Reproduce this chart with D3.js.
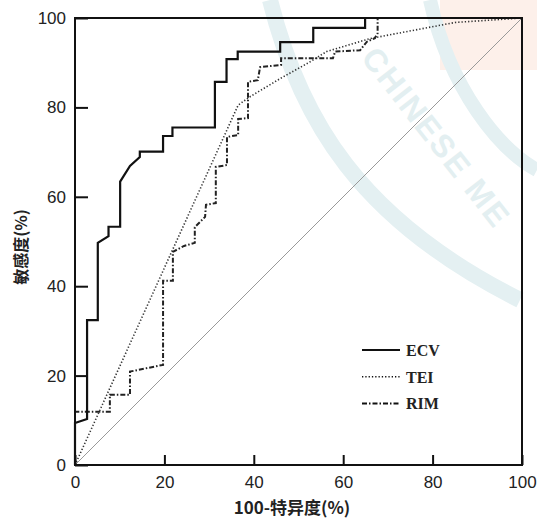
<!DOCTYPE html>
<html>
<head>
<meta charset="utf-8">
<script src="https://cdn.jsdelivr.net/npm/d3@7"></script>
<style>
  html, body { margin: 0; padding: 0; background: #fff; }
  svg { display: block; }
</style>
</head>
<body>
<div id="chart"></div>
<script>
// ROC curves, values: [100-specificity, sensitivity]
const ecv = [[0,0],[0,9.4],[2.7,10.3],[2.7,32.4],[5.1,32.4],[5.1,49.7],[7.5,51.2],[7.5,53.3],
  [10.1,53.3],[10.1,63.4],[12.3,66.9],[14.5,68.9],[14.5,70.1],[19.7,70.1],[19.7,73.6],
  [21.8,73.6],[21.8,75.5],[31.3,75.5],[31.3,85.7],[33.9,85.7],[33.9,90.8],[36.4,90.8],
  [36.4,92.5],[45.9,92.5],[45.9,94.6],[53.3,94.6],[53.3,97.8],[64.9,97.8],[64.9,100],[100,100]];
const tei = [[0,0],[36.5,80.5],[39,82.3],[46,86.5],[52.6,90.2],[56.3,92.5],[66,95.4],[85,99],[100,100]];
const rim = [[0,0],[0,11.9],[7.8,11.9],[7.8,15.7],[12.3,15.7],[12.3,20.9],[19.7,22.4],[19.7,41.2],
  [21.9,41.2],[21.9,47.7],[24.4,49.0],[26.8,49.7],[26.8,53.2],[29.1,55.5],[29.3,58.2],[31.5,58.6],
  [31.5,66.7],[34,67.1],[34,73.4],[36.5,73.8],[36.5,77.4],[38.7,77.6],[38.7,85.7],[40.9,86.1],
  [41.4,89.0],[46.1,89.5],[46.1,91.0],[57.7,91.0],[58.2,92.5],[63.8,92.8],[65.3,94.7],
  [67.1,95.5],[67.7,96.6],[67.7,100],[100,100]];
const diagonal = [[0,0],[100,100]];

const ticks = [0, 20, 40, 60, 80, 100];
const seriesNames = ['ECV', 'TEI', 'RIM'];

const width = 537, height = 518;

const svg = d3.select('#chart').append('svg')
  .attr('width', width)
  .attr('height', height);

// faint watermark behind the plot
const wm = svg.append('g').attr('fill', 'none');
wm.append('rect').attr('x', 440).attr('y', 0).attr('width', 97).attr('height', 70)
  .attr('fill', '#fdf0ea').attr('stroke', 'none');
wm.append('path').attr('d', 'M270,0 C300,120 360,220 520,300')
  .attr('stroke', '#e4f0f2').attr('stroke-width', 16);
wm.append('path').attr('d', 'M430,0 C450,90 500,150 537,170')
  .attr('stroke', '#e4f0f2').attr('stroke-width', 14);
wm.append('text').attr('transform', 'translate(360,58) rotate(52)')
  .attr('font-family', 'Liberation Sans, sans-serif').attr('font-size', 32)
  .attr('font-weight', 'bold')
  .attr('fill', '#e3eff1').attr('letter-spacing', 2).text('CHINESE ME');

const x = d3.scaleLinear().domain([0, 100]).range([75, 522]);
const y = d3.scaleLinear().domain([0, 100]).range([465, 18]);

const line = d3.line().x(d => x(d[0])).y(d => y(d[1]));

// reference diagonal
svg.append('path').datum(diagonal).attr('d', line)
  .attr('fill', 'none').attr('stroke', '#999').attr('stroke-width', 1);

// curves
svg.append('path').datum(tei).attr('d', line)
  .attr('fill', 'none').attr('stroke', '#333').attr('stroke-width', 1.6)
  .attr('stroke-dasharray', '1.3,2');
svg.append('path').datum(rim).attr('d', line)
  .attr('fill', 'none').attr('stroke', '#222').attr('stroke-width', 2)
  .attr('stroke-dasharray', '5,2,1.5,2');
svg.append('path').datum(ecv).attr('d', line)
  .attr('fill', 'none').attr('stroke', '#111').attr('stroke-width', 2.2)
  .attr('stroke-linejoin', 'miter');

// frame
svg.append('rect')
  .attr('x', x(0)).attr('y', y(100))
  .attr('width', x(100) - x(0)).attr('height', y(0) - y(100))
  .attr('fill', 'none').attr('stroke', '#111').attr('stroke-width', 2);

// axes with inward ticks
const xAxis = svg.append('g')
  .attr('transform', `translate(0,${y(0)})`)
  .call(d3.axisBottom(x).tickValues(ticks).tickSize(-10).tickPadding(11));
const yAxis = svg.append('g')
  .attr('transform', `translate(${x(0)},0)`)
  .call(d3.axisLeft(y).tickValues(ticks).tickSize(-13).tickPadding(9));

[xAxis, yAxis].forEach(g => {
  g.select('.domain').remove();
  g.selectAll('.tick line').attr('stroke', '#111').attr('stroke-width', 2);
  g.selectAll('.tick text')
    .attr('font-family', 'Liberation Sans, Arial, sans-serif')
    .attr('font-size', 17).attr('fill', '#222');
});

// axis titles
svg.append('text')
  .attr('x', 292).attr('y', 514).attr('text-anchor', 'middle')
  .attr('font-family', 'Noto Sans CJK SC, sans-serif').attr('font-size', 17)
  .attr('font-weight', 'bold').attr('fill', '#222').text('100-特异度(%)');
svg.append('text')
  .attr('transform', 'translate(27,247) rotate(-90)').attr('text-anchor', 'middle')
  .attr('font-family', 'Noto Sans CJK SC, sans-serif').attr('font-size', 16)
  .attr('font-weight', 'bold').attr('fill', '#222').text('敏感度(%)');

// legend
const legendStyles = [
  {dash: null, w: 2.2},
  {dash: '1.3,2', w: 1.4},
  {dash: '5,2,1.5,2', w: 2}
];
const legend = svg.append('g').attr('transform', 'translate(362,350)')
  .selectAll('g').data(seriesNames).join('g')
  .attr('transform', (d, i) => `translate(0,${i * 26.7})`);
legend.append('line')
  .attr('x1', 0).attr('x2', 38).attr('y1', 0).attr('y2', 0)
  .attr('stroke', '#111')
  .attr('stroke-width', (d, i) => legendStyles[i].w)
  .attr('stroke-dasharray', (d, i) => legendStyles[i].dash);
legend.append('text')
  .attr('x', 44).attr('y', 6)
  .attr('font-family', 'Liberation Serif, serif').attr('font-size', 16)
  .attr('font-weight', 'bold').attr('fill', '#222')
  .text(d => d);
</script>
</body>
</html>
